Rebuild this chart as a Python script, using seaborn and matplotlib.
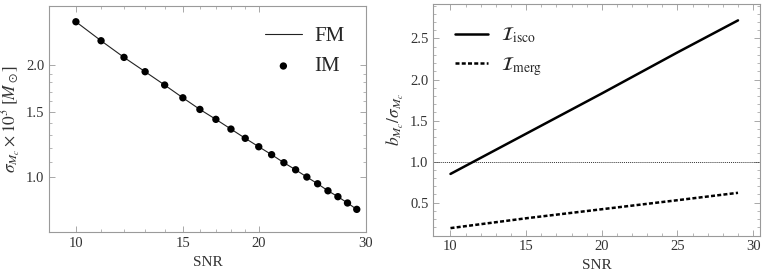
import numpy as np
import pandas as pd
import matplotlib
matplotlib.use('Agg')
import matplotlib.pyplot as plt
import seaborn as sns

# left panel: chirp-mass error vs SNR (log-log)
snr_left = [10, 11, 12, 13, 14, 15, 16, 17, 18, 19, 20, 21, 22, 23, 24, 25, 26, 27, 28, 29]
sigma_mc = [2.624, 2.332, 2.103, 1.924, 1.771, 1.636, 1.522, 1.431, 1.347, 1.272,
            1.207, 1.149, 1.093, 1.046, 1.000, 0.959, 0.918, 0.885, 0.851, 0.818]

# right panel: bias / sigma vs SNR
snr_right = [10, 15, 20, 25, 29]
ratio_isco = [0.85, 1.34, 1.83, 2.33, 2.72]
ratio_merg = [0.19, 0.31, 0.42, 0.53, 0.62]

left_yticks = [1.0, 1.5, 2.0]
left_xticks = [10, 15, 20, 30]

sns.set_style('ticks')
plt.rcParams['font.family'] = ['Liberation Serif', 'DejaVu Serif']
plt.rcParams['mathtext.fontset'] = 'stix'
plt.rcParams['axes.edgecolor'] = '#9a9a9a'
plt.rcParams['xtick.color'] = '#9a9a9a'
plt.rcParams['ytick.color'] = '#9a9a9a'
plt.rcParams['xtick.labelcolor'] = '#333333'
plt.rcParams['ytick.labelcolor'] = '#333333'

fig = plt.figure(figsize=(7.63, 2.75), dpi=100)
ax1 = fig.add_axes([0.0646, 0.155, 0.4147, 0.823])
ax2 = fig.add_axes([0.568, 0.1436, 0.428, 0.842])

df_left = pd.DataFrame({'SNR': snr_left, 'sigma': sigma_mc})
sns.lineplot(data=df_left, x='SNR', y='sigma', ax=ax1, color='#222222', lw=0.8, label='FM')
sns.scatterplot(data=df_left, x='SNR', y='sigma', ax=ax1, color='black', s=28,
                edgecolor='none', label='IM', zorder=3)
ax1.set_xscale('log')
ax1.set_yscale('log')
ax1.set_xlim(9.04, 30)
ax1.set_ylim(0.709, 2.893)
ax1.set_xticks(left_xticks)
ax1.set_xticklabels([str(t) for t in left_xticks])
ax1.set_xticks([11, 12, 13, 14, 16, 17, 18, 19], minor=True)
ax1.set_xticklabels([], minor=True)
ax1.set_yticks(left_yticks)
ax1.set_yticklabels(['%.1f' % t for t in left_yticks])
ax1.set_yticks([1.1, 1.2, 1.3, 1.4, 1.6, 1.7, 1.8, 1.9], minor=True)
ax1.set_yticklabels([], minor=True)
ax1.set_xlabel('SNR', fontsize=11, color='#333333')
ax1.set_ylabel(r'$\sigma_{M_c}\times 10^3\;[M_\odot]$', fontsize=12.5, color='#333333', labelpad=2)
ax1.legend(loc='upper right', frameon=False, fontsize=15, handlelength=1.8,
           handletextpad=0.6, borderaxespad=0.6, labelspacing=0.5)

df_right = pd.DataFrame({'SNR': snr_right + snr_right,
                         'ratio': ratio_isco + ratio_merg,
                         'case': ['isco'] * len(snr_right) + ['merg'] * len(snr_right)})
ax2.axhline(1.0, color='#333333', lw=0.7, ls=(0, (1, 1)))
sns.lineplot(data=df_right[df_right['case'] == 'isco'], x='SNR', y='ratio', ax=ax2,
             color='black', lw=1.8, label=r'$\mathcal{I}_{\rm isco}$')
sns.lineplot(data=df_right[df_right['case'] == 'merg'], x='SNR', y='ratio', ax=ax2,
             color='black', lw=1.8, ls=(0, (1.6, 0.9)), label=r'$\mathcal{I}_{\rm merg}$')
ax2.set_xlim(8.87, 30.45)
ax2.set_ylim(0.1, 2.92)
ax2.set_xticks([10, 15, 20, 25, 30])
ax2.set_xticks(np.arange(11, 30, 1), minor=True)
ax2.set_yticks([0.5, 1.0, 1.5, 2.0, 2.5])
ax2.set_yticks(np.arange(0.2, 2.91, 0.1), minor=True)
ax2.set_xlabel('SNR', fontsize=11, color='#333333')
ax2.set_ylabel(r'$b_{M_c}/\sigma_{M_c}$', fontsize=12.5, color='#333333', labelpad=3)
ax2.legend(loc='upper left', frameon=False, fontsize=14, handlelength=1.7,
           handletextpad=0.7, borderaxespad=0.7, labelspacing=0.5)

for ax in (ax1, ax2):
    ax.tick_params(which='both', direction='in', top=True, right=True, labelsize=10.5)
    ax.tick_params(which='major', length=4, width=0.6)
    ax.tick_params(which='minor', length=2, width=0.5)
    for sp in ax.spines.values():
        sp.set_linewidth(0.8)

fig.savefig('out.png', dpi=100)
